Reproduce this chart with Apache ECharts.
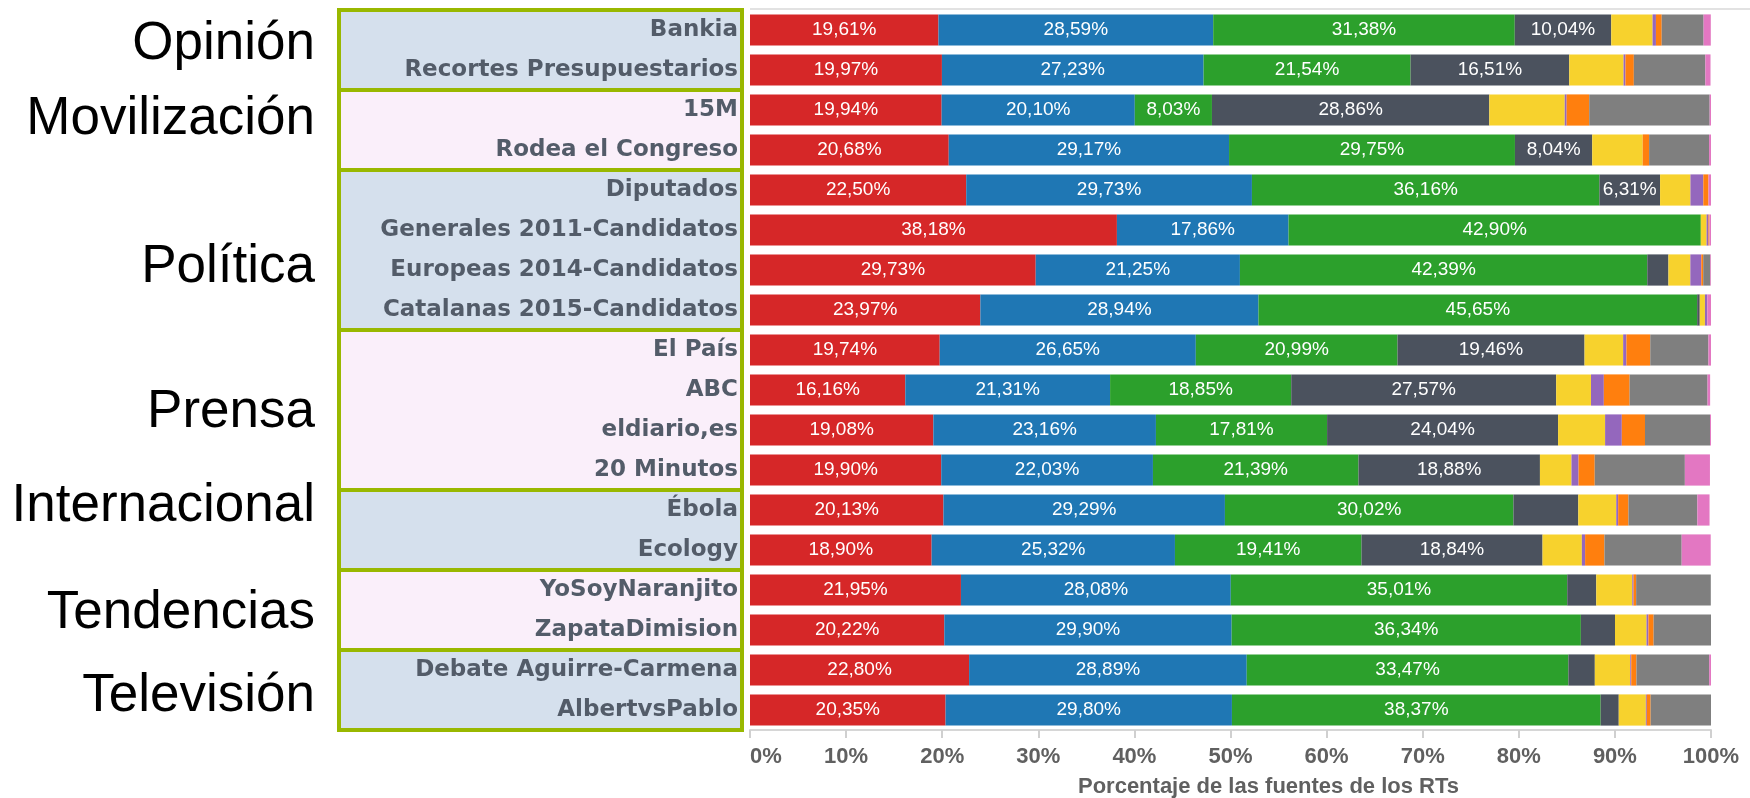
<!DOCTYPE html>
<html>
<head>
<meta charset="utf-8">
<script src="https://cdn.jsdelivr.net/npm/echarts@6/dist/echarts.min.js"></script>
<style>
  html, body { margin: 0; padding: 0; background: #fff; }
  #chart { width: 1750px; height: 798px; }
</style>
</head>
<body>
<div id="chart"></div>
<script>
// categorias (de arriba a abajo)
var categorias = ['Bankia', 'Recortes Presupuestarios', '15M', 'Rodea el Congreso', 'Diputados',
  'Generales 2011-Candidatos', 'Europeas 2014-Candidatos', 'Catalanas 2015-Candidatos',
  'El País', 'ABC', 'eldiario,es', '20 Minutos', 'Ébola', 'Ecology',
  'YoSoyNaranjito', 'ZapataDimision', 'Debate Aguirre-Carmena', 'AlbertvsPablo'];

// grupos y cuantas filas tiene cada uno
var grupos = ['Opinión', 'Movilización', 'Política', 'Prensa', 'Internacional', 'Tendencias', 'Televisión'];
var filasGrupo = [2, 2, 4, 4, 2, 2, 2];

// porcentajes de cada fuente
var rojo = [19.61, 19.97, 19.94, 20.68, 22.50, 38.18, 29.73, 23.97, 19.74, 16.16, 19.08, 19.90, 20.13, 18.90, 21.95, 20.22, 22.80, 20.35];
var azul = [28.59, 27.23, 20.10, 29.17, 29.73, 17.86, 21.25, 28.94, 26.65, 21.31, 23.16, 22.03, 29.29, 25.32, 28.08, 29.90, 28.89, 29.80];
var verde = [31.38, 21.54, 8.03, 29.75, 36.16, 42.90, 42.39, 45.65, 20.99, 18.85, 17.81, 21.39, 30.02, 19.41, 35.01, 36.34, 33.47, 38.37];
var oscuro = [10.04, 16.51, 28.86, 8.04, 6.31, 0, 2.20, 0.27, 19.46, 27.57, 24.04, 18.88, 6.75, 18.84, 3.02, 3.55, 2.75, 1.88];
var amarillo = [4.30, 5.65, 7.85, 5.25, 3.16, 0.60, 2.28, 0.54, 4.02, 3.62, 4.89, 3.28, 3.95, 4.09, 3.75, 3.28, 3.69, 2.82];
var morado = [0.35, 0.20, 0.20, 0, 1.34, 0.20, 1.14, 0.25, 0.34, 1.34, 1.74, 0.74, 0.20, 0.34, 0.13, 0.20, 0.10, 0.10];
var naranja = [0.60, 0.87, 2.35, 0.67, 0.54, 0.10, 0.20, 0, 2.48, 2.68, 2.41, 1.68, 1.07, 2.01, 0.27, 0.54, 0.54, 0.40];
var gris = [4.36, 7.44, 12.53, 6.24, 0, 0, 0.74, 0, 6.05, 8.11, 6.77, 9.38, 7.17, 8.04, 7.77, 5.97, 7.57, 6.28];
var rosa = [0.75, 0.54, 0.14, 0.20, 0.26, 0.16, 0.07, 0.38, 0.27, 0.27, 0.10, 2.61, 1.27, 3.02, 0, 0, 0.19, 0];

// que filas llevan etiqueta en el tramo oscuro
var etiquetaOscuro = [true, true, true, true, true, false, false, false, true, true, true, true, false, true, false, false, false, false];

var myChart = echarts.init(document.getElementById('chart'));

function fmt(v) {
  return v.toFixed(2).replace('.', ',') + '%';
}

function serie(nombre, datos, color, conEtiqueta) {
  return {
    name: nombre,
    type: 'bar',
    stack: 'total',
    barCategoryGap: '22%',
    data: datos,
    itemStyle: { color: color },
    label: {
      show: true,
      position: 'inside',
      color: '#fff',
      fontFamily: 'Liberation Sans, Arial, sans-serif',
      fontSize: 19,
      formatter: function (p) {
        if (!conEtiqueta(p.dataIndex)) return '';
        return fmt(p.value);
      }
    },
    emphasis: { disabled: true }
  };
}

var siempre = function () { return true; };
var nunca = function () { return false; };

var option = {
  animation: false,
  grid: { left: 750, right: 39, top: 10, bottom: 68, outerBoundsMode: 'none' },
  xAxis: {
    type: 'value',
    min: 0,
    max: 100,
    interval: 10,
    axisLine: { show: true, lineStyle: { color: '#d6d6d6', width: 2 } },
    axisTick: { show: true, length: 8, lineStyle: { color: '#d0d0d0', width: 2 } },
    splitLine: { show: false },
    axisLabel: {
      margin: 16,
      color: '#606060',
      fontFamily: 'Liberation Sans, Arial, sans-serif',
      fontWeight: 'bold',
      fontSize: 22,
      alignMinLabel: 'left',
      formatter: '{value}%'
    },
    name: 'Porcentaje de las fuentes de los RTs',
    nameLocation: 'middle',
    nameGap: 46,
    nameTextStyle: {
      color: '#606060',
      fontFamily: 'Liberation Sans, Arial, sans-serif',
      fontWeight: 'bold',
      fontSize: 22,
      padding: [0, 0, 0, 76]
    }
  },
  yAxis: {
    type: 'category',
    inverse: true,
    data: categorias,
    axisLine: { show: false },
    axisTick: { show: false },
    axisLabel: {
      margin: 12,
      color: '#535c69',
      fontFamily: 'DejaVu Sans, sans-serif',
      fontWeight: 'bold',
      fontSize: 23
    }
  },
  series: [
    serie('rojo', rojo, '#d62728', siempre),
    serie('azul', azul, '#1f77b4', siempre),
    serie('verde', verde, '#2ca02c', siempre),
    serie('oscuro', oscuro, '#4b525e', function (i) { return etiquetaOscuro[i]; }),
    serie('amarillo', amarillo, '#f7d22d', nunca),
    serie('morado', morado, '#9467bd', nunca),
    serie('naranja', naranja, '#ff7f0e', nunca),
    serie('gris', gris, '#7f7f7f', nunca),
    serie('rosa', rosa, '#e377c2', nunca)
  ]
};
myChart.setOption(option);

// cajas verdes de los grupos y sus titulos a la izquierda
var c0 = myChart.convertToPixel({ yAxisIndex: 0 }, 0);
var c1 = myChart.convertToPixel({ yAxisIndex: 0 }, 1);
var banda = c1 - c0;
var ajusteTitulo = [-6, -11, 17, 2, -24, 3, 6];
var graficos = [];
var ini = 0;
grupos.forEach(function (g, k) {
  var n = filasGrupo[k];
  var yTop = myChart.convertToPixel({ yAxisIndex: 0 }, ini) - banda / 2;
  var alto = n * banda;
  graficos.push({
    type: 'rect',
    z: -1,
    shape: { x: 339, y: yTop, width: 403, height: alto },
    style: { fill: k % 2 === 0 ? '#d5e0ed' : '#faeffa', stroke: '#99b800', lineWidth: 4 }
  });
  graficos.push({
    type: 'text',
    x: 315,
    y: yTop + alto / 2 + ajusteTitulo[k],
    style: {
      text: g,
      fill: '#000',
      font: '53px "Liberation Sans", Arial, sans-serif',
      align: 'right',
      verticalAlign: 'middle'
    }
  });
  ini += n;
});
// linea superior del panel
graficos.push({
  type: 'line',
  shape: { x1: 750, y1: 9, x2: 1750, y2: 9 },
  style: { stroke: '#e2e2e2', lineWidth: 2 }
});
myChart.setOption({ graphic: graficos });
</script>
</body>
</html>
